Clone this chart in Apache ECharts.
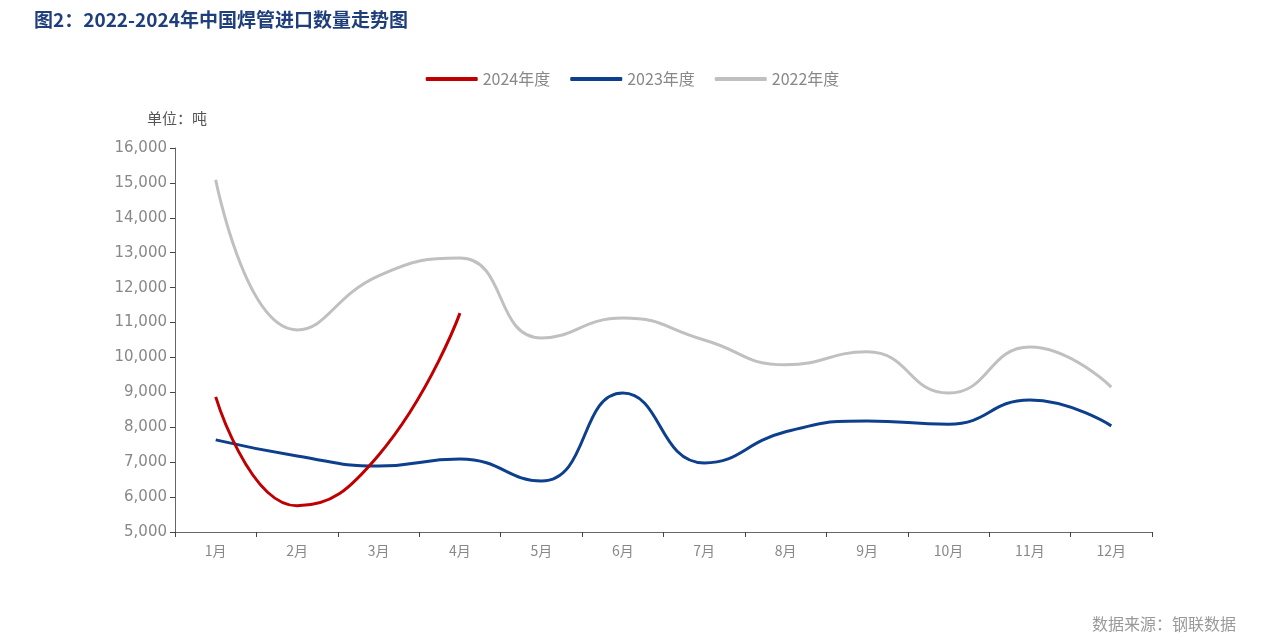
<!DOCTYPE html>
<html><head><meta charset="utf-8">
<script src="https://cdn.jsdelivr.net/npm/echarts@6/dist/echarts.min.js"></script>
<style>html,body{margin:0;padding:0;background:#fff}#c{width:1265px;height:644px}</style>
</head><body><div id="c"></div>
<script>
const categories = ['1月','2月','3月','4月','5月','6月','7月','8月','9月','10月','11月','12月'];
const s2024 = [8870, 5750, 7200, 11270];
const s2023 = [7640, 7180, 6890, 7090, 6460, 8980, 6980, 7870, 8180, 8090, 8780, 8040];
const s2022 = [15090, 10790, 12340, 12850, 10560, 11130, 10500, 9790, 10160, 8980, 10300, 9150];
const fontCJK = '"Noto Sans CJK SC", "Noto Sans", sans-serif';
const chart = echarts.init(document.getElementById('c'));
chart.setOption({
  animation: false,
  backgroundColor: '#fff',
  title: [
    {text: '图2：2022-2024年中国焊管进口数量走势图', left: 29, top: 5,
     textStyle: {color: '#1F3E7C', fontSize: 19, fontWeight: 'bold', fontFamily: fontCJK}},
    {text: '单位：吨', left: 142, top: 106,
     textStyle: {color: '#555', fontSize: 15, fontWeight: 'normal', fontFamily: fontCJK}},
    {text: '数据来源：钢联数据', right: 24, top: 611,
     textStyle: {color: '#999', fontSize: 16, fontWeight: 'normal', fontFamily: fontCJK}}
  ],
  legend: {
    top: 66, left: 'center', itemWidth: 52, itemHeight: 4, itemGap: 20,
    icon: 'roundRect',
    textStyle: {color: '#888', fontSize: 16, fontFamily: fontCJK},
    data: ['2024年度','2023年度','2022年度']
  },
  grid: {left: 175, right: 113, top: 148, bottom: 112},
  xAxis: {
    type: 'category', data: categories, boundaryGap: true,
    axisLine: {lineStyle: {color: '#666', width: 1}},
    axisTick: {show: true, alignWithLabel: false, length: 5, lineStyle: {color: '#444'}},
    axisLabel: {color: '#888', fontSize: 14, margin: 12, fontFamily: fontCJK}
  },
  yAxis: {
    type: 'value', min: 5000, max: 16000, interval: 1000,
    axisLine: {show: true, lineStyle: {color: '#666', width: 1}},
    axisTick: {show: true, length: 5, lineStyle: {color: '#444'}},
    splitLine: {show: false},
    axisLabel: {color: '#888', fontSize: 15, margin: 8, fontFamily: '"DejaVu Sans", sans-serif',
      formatter: v => v.toLocaleString('en-US')}
  },
  series: [
    {name: '2024年度', type: 'line', data: s2024, smooth: true, symbol: 'none',
     lineStyle: {color: '#C00000', width: 3}, itemStyle: {color: '#C00000'}, z: 4},
    {name: '2023年度', type: 'line', data: s2023, smooth: true, symbol: 'none',
     lineStyle: {color: '#0C3F8C', width: 3}, itemStyle: {color: '#0C3F8C'}, z: 3},
    {name: '2022年度', type: 'line', data: s2022, smooth: true, symbol: 'none',
     lineStyle: {color: '#C0C0C0', width: 3}, itemStyle: {color: '#C0C0C0'}, z: 2}
  ]
});
</script></body></html>
